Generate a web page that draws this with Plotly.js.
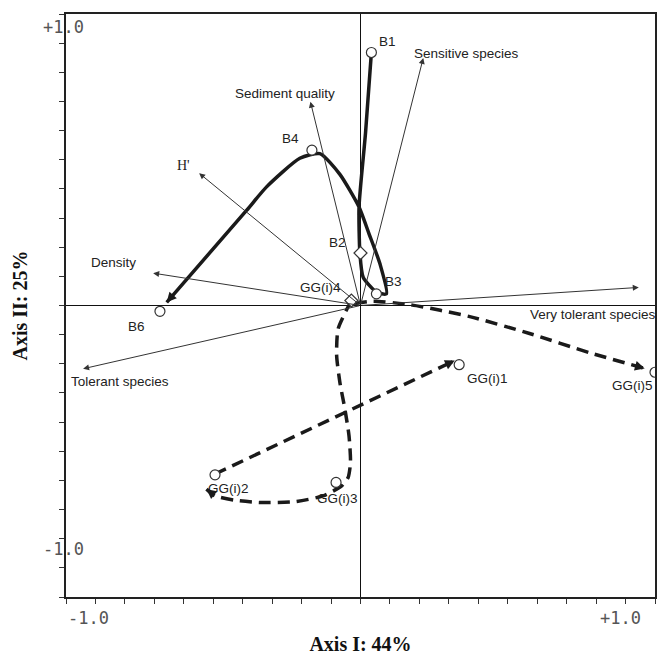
<!DOCTYPE html>
<html>
<head>
<meta charset="utf-8">
<script src="https://cdn.plot.ly/plotly-3.0.1.min.js"></script>
<style>html,body{margin:0;padding:0;background:#fff;}#chart{width:659px;height:655px;}</style>
</head>
<body>
<div id="chart"></div>
<script>
// ---- Sites (sample scores) ----
const siteNames = ['B1', 'B2', 'B3', 'B4', 'B6', 'GG(i)1', 'GG(i)2', 'GG(i)3', 'GG(i)4', 'GG(i)5'];
const siteX = [0.037, 0.000, 0.054, -0.165, -0.681, 0.335, -0.494, -0.083, -0.031, 1.000];
const siteY = [0.868, 0.180, 0.040, 0.533, -0.020, -0.203, -0.581, -0.607, 0.017, -0.229];
const siteSymbols = ['circle', 'diamond', 'circle', 'circle', 'circle', 'circle', 'circle', 'circle', 'diamond', 'circle'];

// ---- Variables (biplot arrows from origin) ----
const varNames = ['Sensitive species', 'Sediment quality', "H'", 'Density', 'Tolerant species', 'Very tolerant species'];
const varX = [0.213, -0.170, -0.548, -0.704, -0.942, 0.945];
const varY = [0.849, 0.699, 0.454, 0.111, -0.217, 0.062];

// ---- Trajectories ----
const pathBX = [0.037, 0.017, -0.005, -0.002, 0.009, 0.054, 0.088, 0.066, 0.029, -0.005, -0.070, -0.138, -0.206, -0.319, -0.387, -0.658];
const pathBY = [0.868, 0.591, 0.338, 0.180, 0.097, 0.046, 0.040, 0.143, 0.246, 0.338, 0.450, 0.521, 0.505, 0.407, 0.326, 0.011];

const pathG1X = [-0.031, -0.076, -0.081, -0.070, -0.053, -0.039, -0.034, -0.042, -0.064, -0.127, -0.223, -0.336, -0.427, -0.494, -0.523];
const pathG1Y = [0.017, -0.080, -0.172, -0.264, -0.355, -0.447, -0.538, -0.590, -0.619, -0.653, -0.673, -0.676, -0.668, -0.653, -0.630];

const pathG2X = [-0.494, 0.320];
const pathG2Y = [-0.578, -0.189];

const pathG3X = [-0.019, 0.042, 0.167, 0.371, 0.574, 0.778, 0.965];
const pathG3Y = [0.007, 0.015, 0.003, -0.038, -0.096, -0.162, -0.216];

// ---- Label placement (pixel offsets, style only) ----
const siteLabelDX = [16, -23, 17, -21, -23, 28, 13, 1, -31, -23];
const siteLabelDY = [11, 11, 12, 12, -15, -14, -14, -16, 13, -13];
const varLabelDX = [43, -25, -16, -40, 37, -46];
const varLabelDY = [5, 8, 8, 11, -13, -27];

const W = 659, H = 655;
const M = {l: 66, r: 4, t: 14, b: 58};
const pxPerX = (W - M.l - M.r) / 2;
const pxPerY = (H - M.t - M.b) / 2;

const ink = '#1a1a1a';
const traces = [];

function addPath(xs, ys, dash) {
  traces.push({
    x: xs, y: ys, type: 'scatter', mode: 'lines',
    line: {color: ink, width: 3.5, shape: 'spline', smoothing: 0.6, dash: dash},
    hoverinfo: 'skip', showlegend: false
  });
}
addPath(pathBX, pathBY, 'solid');
addPath(pathG1X, pathG1Y, '12px,7px');
addPath(pathG2X, pathG2Y, '12px,7px');
addPath(pathG3X, pathG3Y, '12px,7px');

traces.push({
  x: siteX, y: siteY, text: siteNames, type: 'scatter', mode: 'markers',
  marker: {symbol: siteSymbols, size: 10, color: '#ffffff', line: {color: '#333', width: 1.2}},
  showlegend: false, hoverinfo: 'text'
});

const annotations = [];
// variable arrows
varNames.forEach((n, i) => {
  annotations.push({
    x: varX[i], y: varY[i], ax: 0, ay: 0, axref: 'x', ayref: 'y', xref: 'x', yref: 'y',
    text: '', showarrow: true, arrowhead: 2, arrowsize: 1.2, arrowwidth: 1, arrowcolor: '#333'
  });
  annotations.push({
    x: varX[i], y: varY[i], xref: 'x', yref: 'y', text: n, showarrow: false,
    xanchor: 'center', yanchor: 'middle',
    xshift: varLabelDX[i], yshift: varLabelDY[i],
    font: {family: n === "H'" ? 'Liberation Serif' : 'Liberation Sans', size: n === "H'" ? 14 : 13.5, color: '#222'}
  });
});
// site labels
siteNames.forEach((n, i) => {
  annotations.push({
    x: siteX[i], y: siteY[i], xref: 'x', yref: 'y', text: n, showarrow: false,
    xanchor: 'center', yanchor: 'middle',
    xshift: siteLabelDX[i], yshift: siteLabelDY[i],
    font: {family: 'Liberation Sans', size: 13.5, color: '#222'}
  });
});
// arrowheads at ends of trajectories
function endArrow(xs, ys) {
  const n = xs.length;
  const dx = (xs[n - 1] - xs[n - 2]) * pxPerX;
  const dy = -(ys[n - 1] - ys[n - 2]) * pxPerY;
  const len = Math.sqrt(dx * dx + dy * dy) || 1;
  annotations.push({
    x: xs[n - 1], y: ys[n - 1], xref: 'x', yref: 'y',
    ax: -dx / len * 8, ay: -dy / len * 8,
    text: '', showarrow: true, arrowhead: 2, arrowsize: 0.65, arrowwidth: 3, arrowcolor: ink
  });
}
endArrow(pathBX, pathBY);
endArrow(pathG1X, pathG1Y);
endArrow(pathG2X, pathG2Y);
endArrow(pathG3X, pathG3Y);

// axis end labels (paper coordinates, placed as in the original figure)
const tickFont = {family: 'DejaVu Sans Mono', size: 17, color: '#555'};
const endLabels = [
  {x: -0.004, y: 0.978, t: '+1.0'},
  {x: -0.004, y: 0.082, t: '-1.0'},
  {x: 0.038, y: -0.036, t: '-1.0'},
  {x: 0.941, y: -0.036, t: '+1.0'}
];
endLabels.forEach(e => annotations.push({
  x: e.x, y: e.y, xref: 'paper', yref: 'paper', xanchor: 'center', yanchor: 'middle',
  text: e.t, showarrow: false, font: tickFont
}));

const axisCommon = {
  range: [-1, 1], tick0: -1, dtick: 0.1, ticks: 'outside', ticklen: 5, tickwidth: 1, tickcolor: '#333',
  showticklabels: false, showline: true, mirror: true, linecolor: '#222', linewidth: 2,
  zeroline: true, zerolinecolor: '#111', zerolinewidth: 1.5, showgrid: false, fixedrange: true
};

const layout = {
  width: W, height: H, margin: M,
  paper_bgcolor: '#fff', plot_bgcolor: '#fff', showlegend: false,
  xaxis: Object.assign({}, axisCommon, {
    title: {text: 'Axis I: 44%', standoff: 34, font: {family: 'Liberation Serif', size: 20, color: '#111', weight: 'bold'}}
  }),
  yaxis: Object.assign({}, axisCommon, {
    title: {text: 'Axis II: 25%', standoff: 26, font: {family: 'Liberation Serif', size: 20, color: '#111', weight: 'bold'}}
  }),
  annotations: annotations
};

Plotly.newPlot('chart', traces, layout, {displayModeBar: false, staticPlot: true});
</script>
</body>
</html>
